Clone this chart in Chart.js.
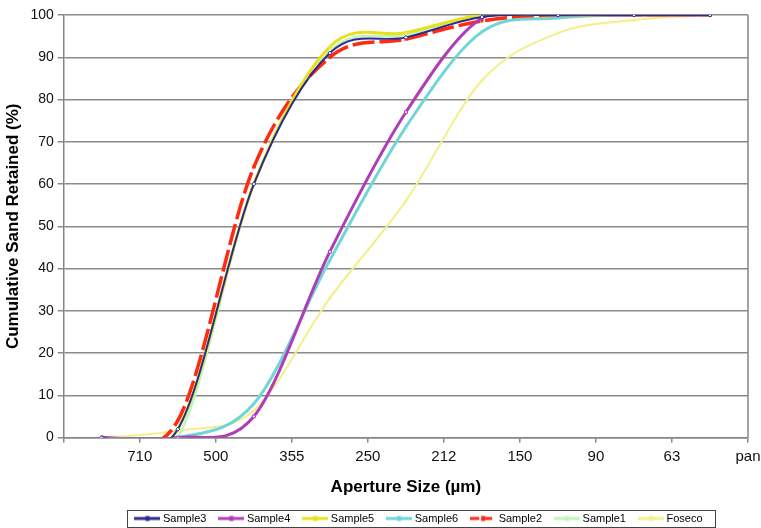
<!DOCTYPE html>
<html><head><meta charset="utf-8">
<script src="https://cdn.jsdelivr.net/npm/chart.js@4.4.1/dist/chart.umd.min.js"></script>
<style>html,body{margin:0;padding:0;background:#fff;}</style>
</head><body>
<canvas id="c" width="761" height="528"></canvas>
<script>
const categories = ['710', '500', '355', '250', '212', '150', '90', '63', 'pan'];
const sample3 = [0, 2, 60, 91, 94.7, 99.5, 100, 100, 100];
const sample4 = [0, 0, 5, 44, 77, 99.3, 100, 100, 100];
const sample5 = [0, 2, 60, 92.5, 95.8, 100, 100, 100, 100];
const sample6 = [0, 0, 8, 42, 73.5, 96, 99.3, 100, 100];
const sample2 = [0, 4, 64, 90, 94.3, 98.6, 100, 100, 100];
const sample1 = [0, 0, 60, 91.5, 95.3, 100, 100, 100, 100];
const foseco  = [0, 1.7, 6.4, 33, 56, 84.5, 95.7, 98.8, 100];
const yTicks = [0, 10, 20, 30, 40, 50, 60, 70, 80, 90, 100];

const FONT = 'Liberation Sans, Arial, sans-serif';
const seriesDefs = [
  {label: 'Sample3', data: sample3, color: '#2b2a8f', width: 2,   dash: [],      marker: 'rectRot'},
  {label: 'Sample4', data: sample4, color: '#b03cb8', width: 3,   dash: [],      marker: 'rect'},
  {label: 'Sample5', data: sample5, color: '#e6e21a', width: 3,   dash: [],      marker: 'triangle'},
  {label: 'Sample6', data: sample6, color: '#6fd6d6', width: 3,   dash: [],      marker: 'crossRot'},
  {label: 'Sample2', data: sample2, color: '#ff2a12', width: 3.5, dash: [22, 5], marker: 'star'},
  {label: 'Sample1', data: sample1, color: '#bdf5bd', width: 2.5, dash: [],      marker: 'circle'},
  {label: 'Foseco',  data: foseco,  color: '#f3ef8a', width: 2,   dash: [],      marker: 'cross'}
];

function legendIcon(def) {
  const cv = document.createElement('canvas');
  cv.width = 26; cv.height = 8;
  const g = cv.getContext('2d');
  g.strokeStyle = def.color; g.lineWidth = 3;
  if (def.dash.length) g.setLineDash([9, 4]);
  g.beginPath(); g.moveTo(0, 4); g.lineTo(26, 4); g.stroke();
  g.setLineDash([]);
  g.fillStyle = def.color;
  g.fillRect(11, 1.5, 4, 5);
  return cv;
}

// Excel-like smoothing (uniform Catmull-Rom control points)
const smoothPlugin = {
  id: 'excelSmooth',
  beforeDatasetDraw(chart, args) {
    const meta = args.meta;
    const line = meta.dataset;
    if (!line) return;
    if (typeof line.updateControlPoints === 'function') line.updateControlPoints(chart.chartArea, meta.iScale ? meta.iScale.axis : 'x');
    const pts = meta.data;
    const n = pts.length;
    for (let i = 0; i < n; i++) {
      const p = pts[i];
      const prev = pts[Math.max(i - 1, 0)], next = pts[Math.min(i + 1, n - 1)];
      const dx = (next.x - prev.x) / 6, dy = (next.y - prev.y) / 6;
      p.cp1x = p.x - dx; p.cp1y = p.y - dy;
      p.cp2x = p.x + dx; p.cp2y = p.y + dy;
    }
  }
};

const LEGEND_CENTER = 420;
const framePlugin = {
  id: 'frame',
  afterLayout(chart) {
    const L = chart.legend;
    if (L) {
      const shift = LEGEND_CENTER - (L.left + L.right) / 2;
      L.left += shift; L.right += shift;
    }
  },
  afterDraw(chart) {
    const {ctx, chartArea: a} = chart;
    ctx.save();
    ctx.strokeStyle = '#858585'; ctx.lineWidth = 1.5;
    ctx.beginPath(); ctx.moveTo(a.right, a.top); ctx.lineTo(a.right, a.bottom); ctx.stroke();
    const hb = chart.legend && chart.legend.legendHitBoxes;
    if (hb && hb.length) {
      const minx = Math.min(...hb.map(h => h.left));
      const maxx = Math.max(...hb.map(h => h.left + h.width));
      const miny = Math.min(...hb.map(h => h.top));
      const maxy = Math.max(...hb.map(h => h.top + h.height));
      ctx.strokeStyle = '#444'; ctx.lineWidth = 1;
      ctx.strokeRect(Math.round(minx - 10) + 0.5, Math.round(miny - 3) + 0.5, Math.round(maxx - minx + 23), Math.round(maxy - miny + 6));
    }
    ctx.restore();
  }
};

new Chart(document.getElementById('c'), {
  type: 'line',
  data: {
    labels: categories,
    datasets: seriesDefs.map(d => ({
      label: d.label,
      data: d.data,
      borderColor: d.color,
      backgroundColor: d.color,
      borderWidth: d.width,
      borderDash: d.dash,
      tension: 0.4,
      fill: false,
      pointStyle: d.marker,
      pointRadius: 2,
      pointBorderWidth: 1,
      pointBorderColor: d.color,
      pointBackgroundColor: '#eefafa'
    }))
  },
  options: {
    responsive: false,
    animation: false,
    devicePixelRatio: 1,
    layout: {padding: {left: 3, right: 13, top: 15, bottom: -6}},
    plugins: {
      tooltip: {enabled: false},
      legend: {
        position: 'bottom',
        labels: {
          font: {family: FONT, size: 11},
          color: '#000',
          usePointStyle: true,
          pointStyleWidth: 20,
          boxHeight: 10,
          padding: 15,
          generateLabels(chart) {
            return seriesDefs.map((d, i) => ({
              text: d.label,
              pointStyle: legendIcon(d),
              fillStyle: d.color,
              strokeStyle: d.color,
              lineWidth: 0,
              datasetIndex: i,
              hidden: false,
              fontColor: '#000'
            }));
          }
        }
      }
    },
    scales: {
      x: {
        type: 'category',
        offset: true,
        grid: {offset: true, drawOnChartArea: false, drawTicks: true, tickLength: 5, color: '#858585', lineWidth: 1.5},
        border: {color: '#858585', width: 1.5},
        ticks: {labelOffset: 38, autoSkip: false, maxRotation: 0, padding: 5, color: '#111',
                font: {family: FONT, size: 15}},
        title: {display: true, text: 'Aperture Size (µm)', color: '#000',
                font: {family: FONT, size: 17, weight: 'bold'}, padding: {top: 7, bottom: 0}}
      },
      y: {
        min: 0, max: 100,
        afterBuildTicks(axis) { axis.ticks = yTicks.map(v => ({value: v})); },
        grid: {color: '#8a8a8a', lineWidth: 1.5, tickLength: 6},
        border: {color: '#858585', width: 1.5},
        ticks: {color: '#111', padding: 4, font: {family: FONT, size: 14}},
        title: {display: true, text: 'Cumulative Sand Retained (%)', color: '#000',
                font: {family: FONT, size: 17, weight: 'bold'}, padding: {top: 0, bottom: 3}}
      }
    }
  },
  plugins: [smoothPlugin, framePlugin]
});
</script>
</body></html>
